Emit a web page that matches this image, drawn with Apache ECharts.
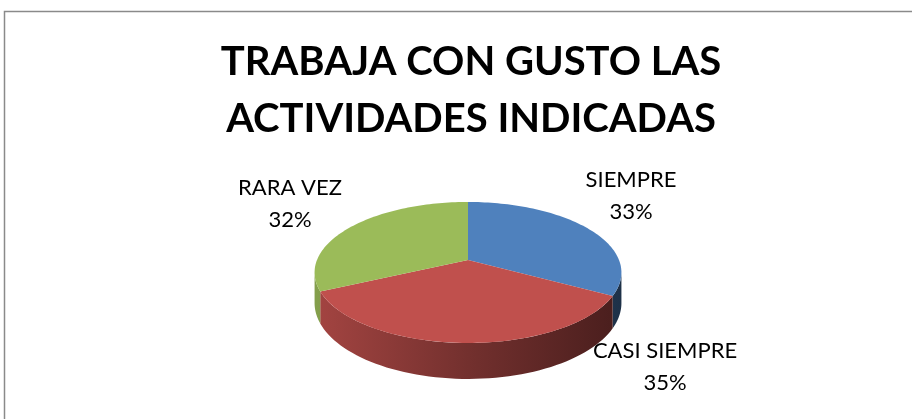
<!DOCTYPE html>
<html>
<head>
<meta charset="utf-8">
<script src="https://cdn.jsdelivr.net/npm/echarts@6/dist/echarts.min.js"></script>
<style>
  html, body { margin: 0; padding: 0; background: #fff; }
  #grafico { width: 912px; height: 419px; }
</style>
</head>
<body>
<div id="grafico"></div>
<script>
var categorias = ['SIEMPRE', 'CASI SIEMPRE', 'RARA VEZ'];
var valores = [33, 35, 32];
var cores = ['#4F81BD', '#C0504D', '#9BBB59'];

// layout do "pie 3D" (centro, raios, perspectiva, altura)
var cx = 468, cy = 260, rx = 151, ry = 68.3, persp = 0.177, alto = 29.6;
var posRotulos = [[631, 196], [665, 367], [290, 204]];

var total = valores.reduce(function (a, b) { return a + b; }, 0);

function ponto(t) {
    var d = 1 + persp * Math.cos(t);
    return [cx + rx * Math.sin(t) / d, cy - ry * Math.cos(t) / d];
}
function baixo(t) {
    var p = ponto(t);
    var d = 1 + persp * Math.cos(t);
    return [p[0], p[1] + alto / d];
}
function escurece(hex, f) {
    var n = parseInt(hex.slice(1), 16);
    var r = Math.round(((n >> 16) & 255) * f), g = Math.round(((n >> 8) & 255) * f), b = Math.round((n & 255) * f);
    return 'rgb(' + r + ',' + g + ',' + b + ')';
}

var silA = Math.acos(-persp), silB = 2 * Math.PI - Math.acos(-persp);

function renderItem(params, api) {
    var i = params.dataIndex;
    var ini = 0;
    for (var j = 0; j < i; j++) ini += valores[j];
    var a0 = ini / total * 2 * Math.PI;
    var a1 = (ini + api.value(0)) / total * 2 * Math.PI;
    var filhos = [];

    // lateral
    var lo = Math.max(a0, silA), hi = Math.min(a1, silB);
    if (lo < hi) {
        var cima = [], base = [];
        for (var k = 0; k <= 60; k++) {
            var t = lo + (hi - lo) * k / 60;
            cima.push(ponto(t));
            base.unshift(baixo(t));
        }
        filhos.push({
            type: 'polygon',
            shape: { points: cima.concat(base) },
            style: {
                fill: new echarts.graphic.LinearGradient(317, 0, 620, 0, [
                    { offset: 0, color: escurece(cores[i], 0.85) },
                    { offset: 0.5, color: escurece(cores[i], 0.6) },
                    { offset: 1, color: escurece(cores[i], 0.38) }
                ], true)
            }
        });
    }

    // topo
    var pts = [[cx, cy]];
    for (var m = 0; m <= 80; m++) {
        pts.push(ponto(a0 + (a1 - a0) * m / 80));
    }
    filhos.push({ type: 'polygon', shape: { points: pts }, style: { fill: cores[i] } });

    // rotulo
    var pct = Math.round(api.value(0) / total * 100) + '%';
    filhos.push({
        type: 'text',
        z2: 10,
        style: {
            text: categorias[i] + '\n' + pct,
            x: posRotulos[i][0],
            y: posRotulos[i][1],
            align: 'center',
            verticalAlign: 'middle',
            font: '22px Lato',
            lineHeight: 32,
            fill: '#000'
        }
    });
    return { type: 'group', children: filhos };
}

var chart = echarts.init(document.getElementById('grafico'));
var option = {
    animation: false,
    title: {
        text: 'TRABAJA CON GUSTO LAS\nACTIVIDADES INDICADAS',
        left: 466,
        top: 29,
        textAlign: 'center',
        textStyle: {
            fontFamily: 'Lato',
            fontWeight: 'bold',
            fontSize: 40,
            lineHeight: 57,
            color: '#000'
        }
    },
    graphic: [{
        type: 'rect',
        shape: { x: 4.5, y: 11.5, width: 940, height: 440 },
        style: { fill: 'none', stroke: '#8a8a8a', lineWidth: 1.5 },
        silent: true
    }],
    series: [{
        type: 'custom',
        coordinateSystem: 'none',
        renderItem: renderItem,
        data: valores.map(function (v, i) { return { value: v, name: categorias[i] }; })
    }]
};
chart.setOption(option);
</script>
</body>
</html>
